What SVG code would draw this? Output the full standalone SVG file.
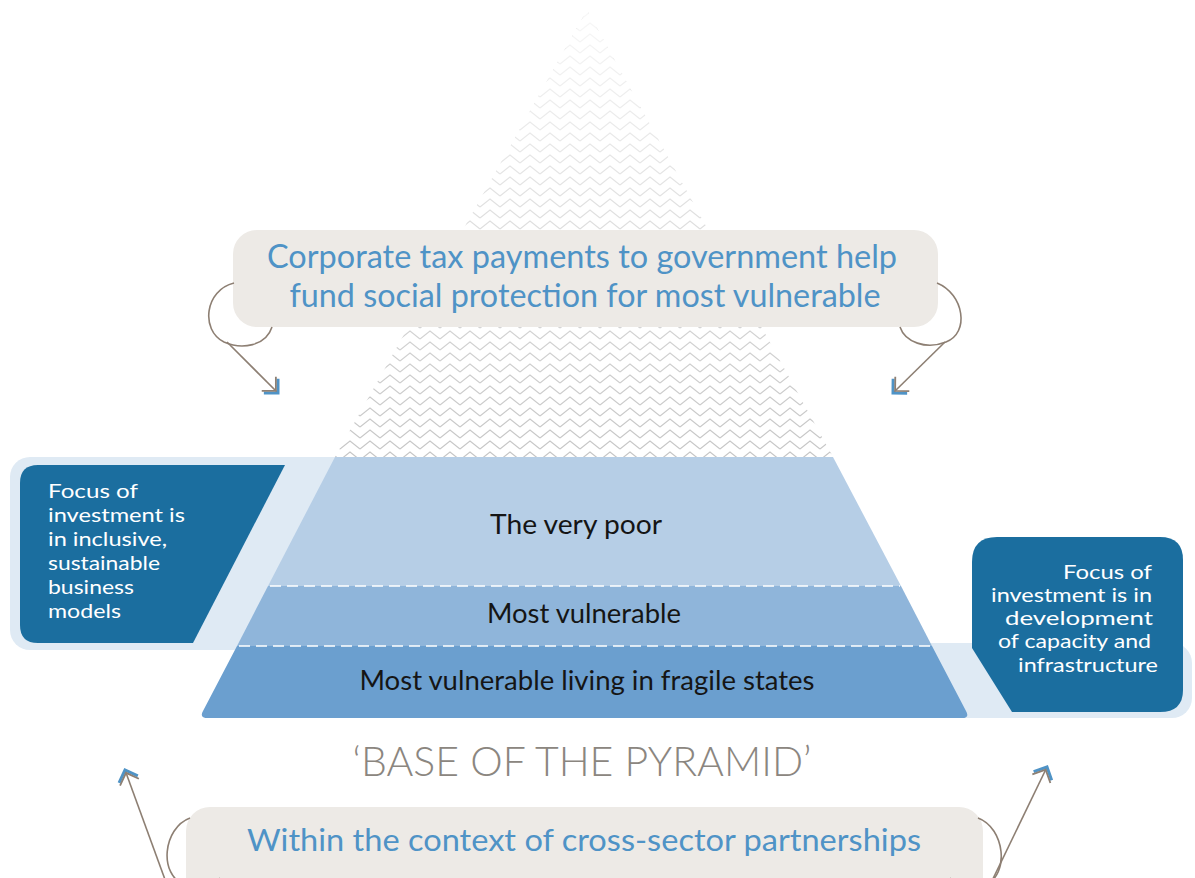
<svg xmlns="http://www.w3.org/2000/svg" width="1195" height="878" viewBox="0 0 1195 878">
  <defs>
    <style>
      .callout { fill: #edeae6; }
      .callout-text { font-family: Lato, "Open Sans", sans-serif; fill: #4f93c6; text-anchor: middle; }
      .layer-text { font-family: Lato, "Open Sans", sans-serif; fill: #151515; font-size: 26px; text-anchor: middle; }
      .box-text { font-family: Lato, "Open Sans", sans-serif; fill: #ffffff; font-size: 20px; }
      .band { fill: #dfeaf4; }
      .dark { fill: #1b6e9f; }
      .dash { stroke: #ffffff; stroke-width: 1.6; stroke-dasharray: 11 6; fill: none; }
      .conn { fill: none; stroke: #8d7f73; stroke-width: 1.6; }
    </style>
    <pattern id="zig" width="20" height="11" patternUnits="userSpaceOnUse">
      <path d="M0,9 L10,1 L20,9" fill="none" stroke="#c2c2c2" stroke-width="1.1"/>
    </pattern>
    <linearGradient id="fade" x1="0" y1="0" x2="0" y2="1">
      <stop offset="0" stop-color="#ffffff" stop-opacity="0.88"/>
      <stop offset="0.6" stop-color="#ffffff" stop-opacity="0.35"/>
      <stop offset="1" stop-color="#ffffff" stop-opacity="0.05"/>
    </linearGradient>
    <marker id="arrow" markerUnits="userSpaceOnUse" markerWidth="30" markerHeight="30" viewBox="-16 -15 20 30" refX="0" refY="0" orient="auto">
      <polyline points="-10,-10 0,0 -10,10" fill="none" stroke="#4f93c6" stroke-width="3"/>
      <polyline points="-13,-10 -3,0 -13,10" fill="none" stroke="#8d7f73" stroke-width="1.8"/>
    </marker>
  </defs>

  <rect width="1195" height="878" fill="#ffffff"/>

  <!-- hatched apex triangle -->
  <g id="apex">
    <polygon points="587,10 335,457 833,457" fill="url(#zig)"/>
    <polygon points="587,10 335,457 833,457" fill="url(#fade)"/>
  </g>

  <!-- background bands -->
  <g id="bands">
    <rect class="band" x="10" y="457" width="600" height="193" rx="20"/>
    <rect class="band" x="590" y="643" width="602" height="75" rx="20"/>
  </g>

  <!-- pyramid -->
  <g id="layer-very-poor">
    <polygon points="335,457 833,457 901,586 268,586" fill="#b6cee6"/>
    <text class="layer-text" x="576" y="534" textLength="172" lengthAdjust="spacingAndGlyphs">The very poor</text>
  </g>
  <g id="layer-most-vulnerable">
    <polygon points="268,586 901,586 932,646 237,646" fill="#8fb5da"/>
    <text class="layer-text" x="584" y="623" textLength="194" lengthAdjust="spacingAndGlyphs">Most vulnerable</text>
  </g>
  <g id="layer-fragile">
    <path d="M237,646 L932,646 L966,711 Q970,718 962,718 L208,718 Q199,718 203,711 Z" fill="#6b9fcf"/>
    <text class="layer-text" x="587" y="690" textLength="455" lengthAdjust="spacingAndGlyphs">Most vulnerable living in fragile states</text>
  </g>
  <g id="dividers">
    <line class="dash" x1="270" y1="586" x2="900" y2="586"/>
    <line class="dash" x1="239" y1="646" x2="931" y2="646"/>
  </g>

  <!-- left focus box -->
  <g id="left-box">
    <path class="dark" d="M38,465 L285,465 L193,643 L38,643 Q20,643 20,625 L20,483 Q20,465 38,465 Z"/>
    <text class="box-text" x="48" y="498" textLength="90" lengthAdjust="spacingAndGlyphs">Focus of</text>
    <text class="box-text" x="48" y="522" textLength="137" lengthAdjust="spacingAndGlyphs">investment is</text>
    <text class="box-text" x="48" y="546" textLength="119" lengthAdjust="spacingAndGlyphs">in inclusive,</text>
    <text class="box-text" x="48" y="570" textLength="112" lengthAdjust="spacingAndGlyphs">sustainable</text>
    <text class="box-text" x="48" y="594" textLength="86" lengthAdjust="spacingAndGlyphs">business</text>
    <text class="box-text" x="48" y="618" textLength="73" lengthAdjust="spacingAndGlyphs">models</text>
  </g>

  <!-- right focus box -->
  <g id="right-box">
    <path class="dark" d="M997,537 L1160,537 Q1183,537 1183,560 L1183,690 Q1183,712 1160,712 L1012,712 L972,648 L972,562 Q972,537 997,537 Z"/>
    <text class="box-text" x="1063" y="579" textLength="89" lengthAdjust="spacingAndGlyphs">Focus of</text>
    <text class="box-text" x="991" y="602" textLength="161" lengthAdjust="spacingAndGlyphs">investment is in</text>
    <text class="box-text" x="1005" y="625" textLength="148" lengthAdjust="spacingAndGlyphs">development</text>
    <text class="box-text" x="998" y="648" textLength="153" lengthAdjust="spacingAndGlyphs">of capacity and</text>
    <text class="box-text" x="1018" y="672" textLength="140" lengthAdjust="spacingAndGlyphs">infrastructure</text>
  </g>

  <!-- top callout -->
  <g id="top-callout">
    <rect class="callout" x="233" y="230" width="705" height="97" rx="24"/>
    <text class="callout-text" x="582" y="268" font-size="32" textLength="630" lengthAdjust="spacingAndGlyphs">Corporate tax payments to government help</text>
    <text class="callout-text" x="585" y="307" font-size="32" textLength="591" lengthAdjust="spacingAndGlyphs">fund social protection for most vulnerable</text>
  </g>

  <!-- base label -->
  <g id="base-label">
    <text x="582" y="776" font-family="Lato, 'Open Sans', sans-serif" font-weight="300" font-size="41" fill="#8b8680" text-anchor="middle" textLength="459" lengthAdjust="spacingAndGlyphs">‘BASE OF THE PYRAMID’</text>
  </g>

  <!-- bottom callout -->
  <g id="bottom-callout">
    <rect class="callout" x="186" y="807" width="797" height="100" rx="24"/>
    <text class="callout-text" x="584" y="851" font-size="30" textLength="674" lengthAdjust="spacingAndGlyphs">Within the context of cross-sector partnerships</text>
  </g>

  <!-- connectors -->
  <g id="connectors">
    <path class="conn" d="M234,283 C205,290 200,330 224,342 C242,350 266,346 272,327"/>
    <path class="conn" d="M227,342 L278,393" marker-end="url(#arrow)"/>
    <path class="conn" d="M937,283 C964,294 970,333 946,342 C926,350 905,342 900,327"/>
    <path class="conn" d="M945,342 L893,393" marker-end="url(#arrow)"/>
    <path class="conn" d="M190,818 C163,828 158,875 185,885 C200,890 215,885 220,878"/>
    <path class="conn" d="M167,885 L125,770" marker-end="url(#arrow)"/>
    <path class="conn" d="M978,818 C1005,828 1010,875 985,885 C970,890 955,885 950,878"/>
    <path class="conn" d="M990,885 L1047,767" marker-end="url(#arrow)"/>
  </g>
</svg>
